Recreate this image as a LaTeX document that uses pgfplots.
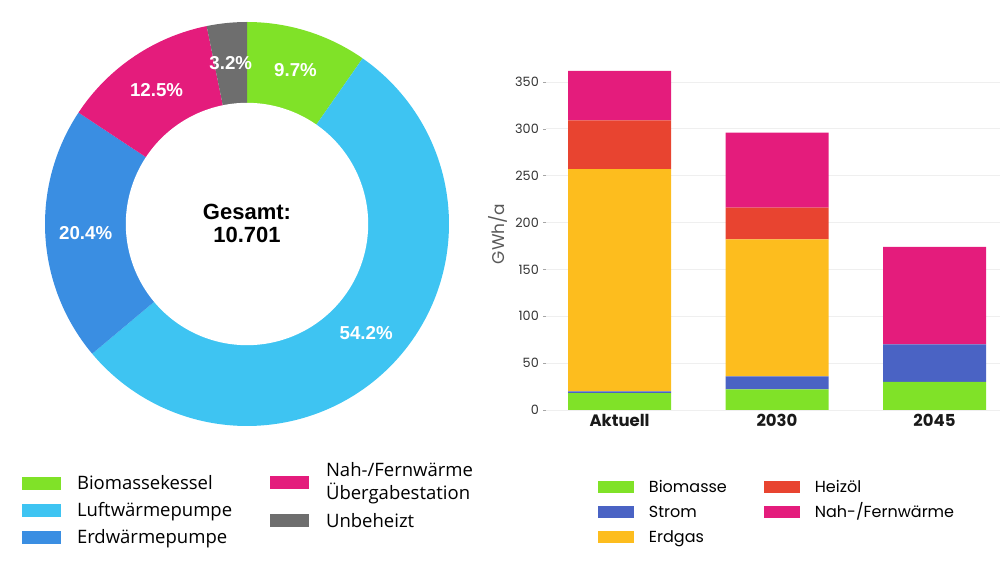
\documentclass[border=0pt]{standalone}
\usepackage{fontspec}
\usepackage{pgfplots}
\usepackage{pgfplotstable}
\pgfplotsset{compat=1.18}
\setmainfont{Poppins}
\newfontfamily\arialf{Liberation Sans}
\newfontfamily\legf{Open Sans}

\definecolor{cBio}{HTML}{80E228}
\definecolor{cLuft}{HTML}{3EC4F2}
\definecolor{cErd}{HTML}{3A8EE2}
\definecolor{cNah}{HTML}{E41C7C}
\definecolor{cGray}{HTML}{6E6E6E}
\definecolor{cStrom}{HTML}{4A63C4}
\definecolor{cGas}{HTML}{FDBD1E}
\definecolor{cOel}{HTML}{E84430}
\definecolor{gridgray}{HTML}{EFEFEF}
\definecolor{tickcol}{HTML}{333333}

\pgfplotsset{
 donutleg/.style={legend image code/.code={\fill[##1] (0pt,-6.5pt) rectangle (39pt,6.5pt);}},
 donutlegB/.style={legend image code/.code={\fill[##1] (0pt,3.5pt) rectangle (39pt,16.5pt);}},
 barleg/.style={legend image code/.code={\fill[##1] (0pt,-6pt) rectangle (36pt,6pt);}},
}

% donut shares (percent)
\pgfplotstableread{
cat pct
Biomassekessel 9.7
Luftwaermepumpe 54.2
Erdwaermepumpe 20.4
NahFern 12.5
Unbeheizt 3.2
}\donutdata

% heat demand GWh/a
\pgfplotstableread{
x Bio Strom Gas Oel Nah
0 18 2 237 52 53
1 22 14 146 34 80
2 30 40 0 0 104
}\bardata

\begin{document}
\begin{tikzpicture}
\pgfplotstablegetelem{0}{pct}\of\donutdata \let\pBio\pgfplotsretval
\pgfplotstablegetelem{1}{pct}\of\donutdata \let\pLuft\pgfplotsretval
\pgfplotstablegetelem{2}{pct}\of\donutdata \let\pErd\pgfplotsretval
\pgfplotstablegetelem{3}{pct}\of\donutdata \let\pNah\pgfplotsretval
\pgfplotstablegetelem{4}{pct}\of\donutdata \let\pUnb\pgfplotsretval
\pgfmathsetmacro\aA{90}
\pgfmathsetmacro\aB{\aA-3.6*\pBio}
\pgfmathsetmacro\aC{\aB-3.6*\pLuft}
\pgfmathsetmacro\aD{\aC-3.6*\pErd}
\pgfmathsetmacro\aE{\aD-3.6*\pNah}
\pgfmathsetmacro\aF{\aE-3.6*\pUnb}
\pgfmathsetmacro\mA{(\aA+\aB)/2}
\pgfmathsetmacro\mB{(\aB+\aC)/2}
\pgfmathsetmacro\mC{(\aC+\aD)/2}
\pgfmathsetmacro\mD{(\aD+\aE)/2}
\pgfmathsetmacro\mE{(\aE+\aF)/2}

% ---------------- donut ----------------
\begin{axis}[
  at={(45pt,138pt)}, anchor=south west,
  scale only axis, width=404pt, height=404pt,
  xmin=-1, xmax=1, ymin=-1, ymax=1,
  hide axis, clip=false,
  legend style={at={(-0.0569,-0.125)}, anchor=north west, draw=none, fill=none,
    inner sep=0pt, outer sep=0pt, row sep=13.8pt, column sep=16pt,
    font=\legf\fontsize{18.5pt}{22pt}\selectfont,
    nodes={inner sep=0pt, text height=13.2pt, text depth=0pt}},
  legend cell align=left,
]
\addplot[draw=none, fill=cBio, forget plot, domain=\aB:\aA, samples=40, variable=\t] ({cos(\t)},{sin(\t)}) -- (axis cs:0,0) -- cycle;
\addplot[draw=none, fill=cLuft, forget plot, domain=\aC:\aB, samples=120, variable=\t] ({cos(\t)},{sin(\t)}) -- (axis cs:0,0) -- cycle;
\addplot[draw=none, fill=cErd, forget plot, domain=\aD:\aC, samples=60, variable=\t] ({cos(\t)},{sin(\t)}) -- (axis cs:0,0) -- cycle;
\addplot[draw=none, fill=cNah, forget plot, domain=\aE:\aD, samples=40, variable=\t] ({cos(\t)},{sin(\t)}) -- (axis cs:0,0) -- cycle;
\addplot[draw=none, fill=cGray, forget plot, domain=\aF:\aE, samples=20, variable=\t] ({cos(\t)},{sin(\t)}) -- (axis cs:0,0) -- cycle;
\addplot[draw=none, fill=white, forget plot, domain=0:360, samples=180, variable=\t] ({0.6*cos(\t)},{0.6*sin(\t)}) -- cycle;

\begin{scope}[every node/.style={text=white, font=\arialf\bfseries\fontsize{18.7pt}{21pt}\selectfont}]
\node at (axis cs:{0.8*cos(\mA)},{0.8*sin(\mA)}) {\pBio\%};
\node at (axis cs:{0.8*cos(\mB)},{0.8*sin(\mB)}) {\pLuft\%};
\node at (axis cs:{0.8*cos(\mC)},{0.8*sin(\mC)}) {\pErd\%};
\node at (axis cs:{0.8*cos(\mD)},{0.8*sin(\mD)}) {\pNah\%};
\node at (axis cs:{0.8*cos(\mE)},{0.8*sin(\mE)}) {\pUnb\%};
\end{scope}
\node[align=center, font=\arialf\bfseries\fontsize{22pt}{23pt}\selectfont] at (axis cs:0,0.005) {Gesamt:\\10.701};

\addlegendimage{donutleg, fill=cBio, draw=none}
\addlegendentry{Biomassekessel}
\addlegendimage{donutleg, fill=cLuft, draw=none}
\addlegendentry{Luftwärmepumpe}
\addlegendimage{donutleg, fill=cErd, draw=none}
\addlegendentry{Erdwärmepumpe}
\end{axis}

% second legend column of the donut
\begin{axis}[
  at={(45pt,138pt)}, anchor=south west,
  scale only axis, width=404pt, height=404pt,
  xmin=-1, xmax=1, ymin=-1, ymax=1,
  hide axis,
  legend style={at={(0.557,-0.125)}, anchor=north west, draw=none, fill=none,
    inner sep=0pt, outer sep=0pt, row sep=14.8pt, column sep=17pt,
    font=\legf\fontsize{18.5pt}{22pt}\selectfont,
    nodes={inner sep=0pt, text height=13.2pt, text depth=0pt}},
  legend cell align=left,
]
\addlegendimage{donutlegB, fill=cNah, draw=none}
\addlegendentry{\begin{tabular}[b]{@{}l@{}}Nah-/Fernwärme\\Übergabestation\end{tabular}}
\addlegendimage{donutleg, fill=cGray, draw=none}
\addlegendentry{Unbeheizt}
\end{axis}

% ---------------- stacked bars ----------------
\begin{axis}[
  at={(546pt,154pt)}, anchor=south west,
  scale only axis, width=454pt, height=351.4pt,
  ybar stacked, bar width=103pt,
  xmin=-0.467, xmax=2.416, ymin=0, ymax=375,
  xtick={0,1,2}, xticklabels={Aktuell,2030,2045},
  ytick={0,50,...,350},
  ymajorgrids, grid style={color=gridgray, line width=0.8pt},
  axis line style={draw=none},
  xtick style={draw=none},
  ytick style={draw=black!35, line width=0.6pt},
  major tick length=3pt, tick align=outside, ytick pos=left,
  /pgf/number format/assume math mode=true,
  yticklabel style={anchor=east, inner sep=0pt, xshift=-4pt, text=tickcol,
    font=\fontsize{12.8pt}{14pt}\selectfont},
  xticklabel style={anchor=north, inner sep=0pt, yshift=-1pt, text=black!90,
    font=\bfseries\fontsize{16.5pt}{18pt}\selectfont, text height=12pt},
  ylabel={GWh/a},
  ylabel style={at={(axis description cs:-0.106,0.501)}, anchor=center, rotate=0,
    text=black!65, font=\fontsize{17pt}{19pt}\selectfont},
  legend style={at={(0.1145,-0.202)}, anchor=north west, draw=none, fill=none,
    inner sep=0pt, outer sep=0pt, row sep=13pt, column sep=15pt,
    font=\fontsize{16pt}{19pt}\selectfont,
    nodes={inner sep=0pt, text height=11.6pt, text depth=0.4pt},
    /tikz/every even column/.append style={column sep=37pt}},
  legend columns=2, legend cell align=left,
]
\addplot[fill=cBio, draw=none, forget plot] table[x=x, y=Bio]{\bardata};
\addplot[fill=cStrom, draw=none, forget plot] table[x=x, y=Strom]{\bardata};
\addplot[fill=cGas, draw=none, forget plot] table[x=x, y=Gas]{\bardata};
\addplot[fill=cOel, draw=none, forget plot] table[x=x, y=Oel]{\bardata};
\addplot[fill=cNah, draw=none, forget plot] table[x=x, y=Nah]{\bardata};

\addlegendimage{barleg, fill=cBio, draw=none}
\addlegendentry{Biomasse}
\addlegendimage{barleg, fill=cOel, draw=none}
\addlegendentry{Heizöl}
\addlegendimage{barleg, fill=cStrom, draw=none}
\addlegendentry{Strom}
\addlegendimage{barleg, fill=cNah, draw=none}
\addlegendentry{Nah-/Fernwärme}
\addlegendimage{barleg, fill=cGas, draw=none}
\addlegendentry{Erdgas}
\end{axis}

\pgfresetboundingbox
\useasboundingbox (0pt,0pt) rectangle (1000pt,564pt);
\end{tikzpicture}
\end{document}
